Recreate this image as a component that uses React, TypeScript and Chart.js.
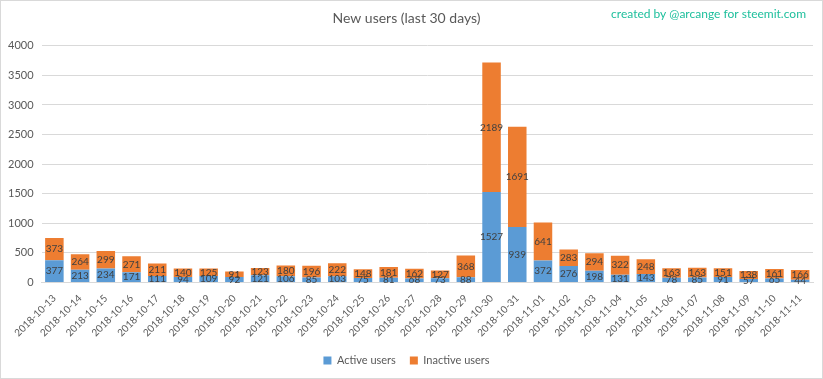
import React, { useEffect, useRef } from "react";
import { Chart, registerables } from "chart.js";

Chart.register(...registerables);

const dates = [
  "2018-10-13", "2018-10-14", "2018-10-15", "2018-10-16", "2018-10-17", "2018-10-18",
  "2018-10-19", "2018-10-20", "2018-10-21", "2018-10-22", "2018-10-23", "2018-10-24",
  "2018-10-25", "2018-10-26", "2018-10-27", "2018-10-28", "2018-10-29", "2018-10-30",
  "2018-10-31", "2018-11-01", "2018-11-02", "2018-11-03", "2018-11-04", "2018-11-05",
  "2018-11-06", "2018-11-07", "2018-11-08", "2018-11-09", "2018-11-10", "2018-11-11",
];
const activeUsers = [377, 213, 234, 171, 111, 94, 109, 92, 121, 106, 85, 103, 75, 81, 68, 73, 88, 1527, 939, 372, 276, 198, 131, 143, 78, 85, 91, 57, 65, 44];
const inactiveUsers = [373, 264, 299, 271, 211, 140, 125, 91, 123, 180, 196, 222, 148, 181, 162, 127, 368, 2189, 1691, 641, 283, 294, 322, 248, 163, 163, 151, 138, 161, 166];

const FONT = "Lato, 'Open Sans', sans-serif";

const extrasPlugin = {
  id: "extras",
  afterDatasetsDraw(chart: any) {
    const ctx = chart.ctx;
    ctx.save();
    ctx.font = `10px ${FONT}`;
    ctx.fillStyle = "#404040";
    ctx.textAlign = "center";
    ctx.textBaseline = "middle";
    chart.data.datasets.forEach((ds: any, di: number) => {
      const meta = chart.getDatasetMeta(di);
      meta.data.forEach((el: any, i: number) => {
        const y = (el.y + el.base) / 2;
        ctx.fillText(String(ds.data[i]), el.x, y);
      });
    });
    ctx.restore();
  },
  afterDraw(chart: any) {
    const ctx = chart.ctx;
    ctx.save();
    ctx.font = `12px ${FONT}`;
    ctx.fillStyle = "#1dbf9c";
    ctx.textAlign = "right";
    ctx.textBaseline = "middle";
    ctx.fillText("created by @arcange for steemit.com", 806, 14);
    ctx.strokeStyle = "#d9d9d9";
    ctx.lineWidth = 1;
    ctx.strokeRect(0.5, 0.5, chart.width - 1, chart.height - 1);
    ctx.restore();
  },
};

export default function App() {
  const ref = useRef<HTMLCanvasElement>(null);
  useEffect(() => {
    if (!ref.current) return;
    const chart = new Chart(ref.current, {
      type: "bar",
      data: {
        labels: dates,
        datasets: [
          { label: "Active users", data: activeUsers, backgroundColor: "#5b9bd5", barPercentage: 0.72, categoryPercentage: 1 },
          { label: "Inactive users", data: inactiveUsers, backgroundColor: "#ed7d31", barPercentage: 0.72, categoryPercentage: 1 },
        ],
      },
      options: {
        animation: false,
        responsive: false,
        maintainAspectRatio: false,
        layout: { padding: { left: 0, right: 10, top: 0, bottom: 3 } },
        plugins: {
          title: {
            display: true,
            text: "New users (last 30 days)",
            color: "#595959",
            font: { family: FONT, size: 14, weight: "normal" },
            padding: { top: 10, bottom: 19 },
          },
          legend: {
            position: "bottom",
            labels: {
              color: "#595959",
              font: { family: FONT, size: 11 },
              boxWidth: 8,
              boxHeight: 8,
              padding: 14,
            },
          },
          tooltip: { enabled: false },
        },
        scales: {
          x: {
            stacked: true,
            grid: { display: false },
            border: { color: "#d9d9d9" },
            ticks: {
              color: "#595959",
              font: { family: FONT, size: 10 },
              maxRotation: 45,
              minRotation: 45,
              autoSkip: false,
              padding: 2,
            },
          },
          y: {
            stacked: true,
            min: 0,
            max: 4000,
            grid: { color: "#d9d9d9", drawTicks: false },
            border: { display: false },
            ticks: {
              stepSize: 500,
              color: "#595959",
              font: { family: FONT, size: 11 },
              padding: 8,
              callback: (v: any) => String(v),
            },
          },
        },
      },
      plugins: [extrasPlugin],
    } as any);
    return () => chart.destroy();
  }, []);
  return (
    <div style={{ position: "absolute", left: 0, top: 0, width: 823, height: 379, background: "#fff" }}>
      <canvas ref={ref} width={823} height={379} />
    </div>
  );
}
